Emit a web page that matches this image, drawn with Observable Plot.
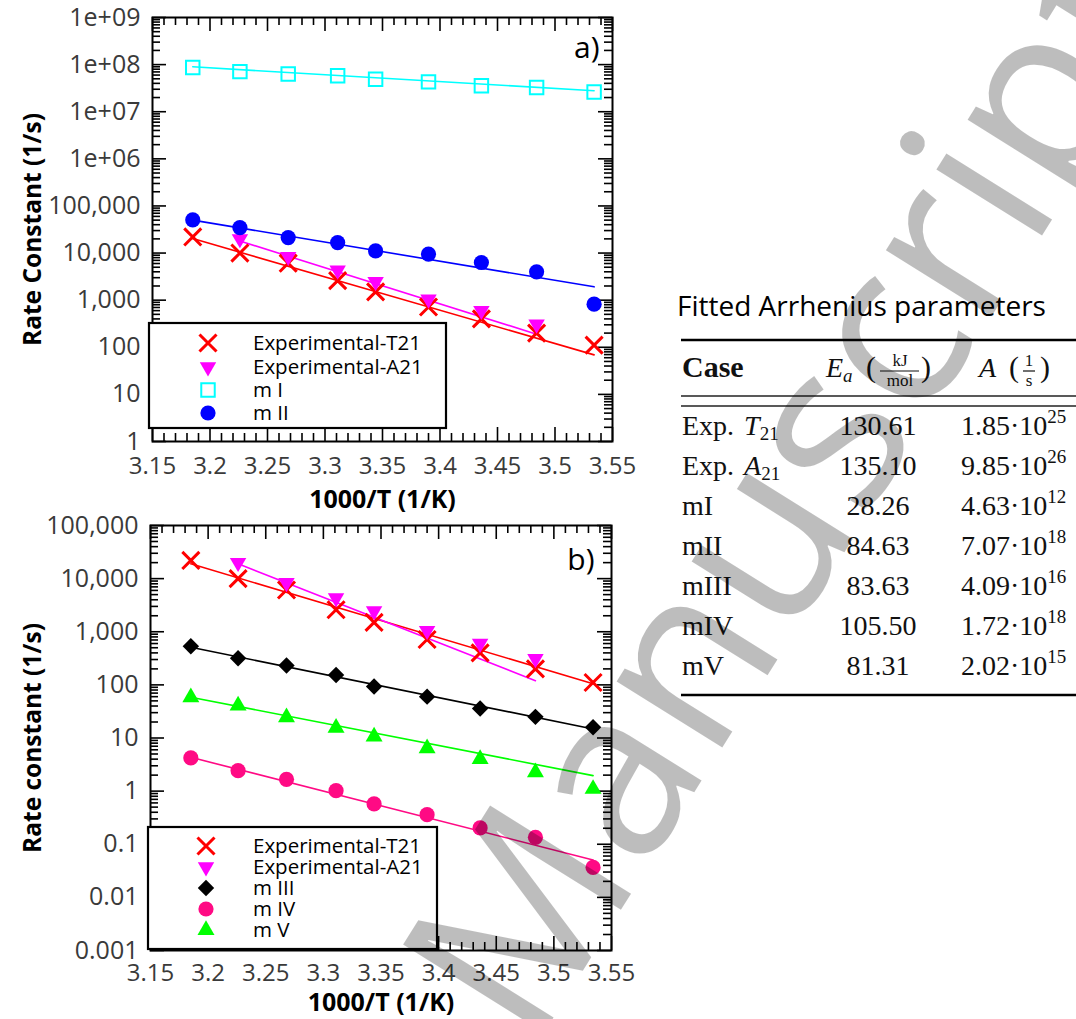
<!DOCTYPE html>
<html><head><meta charset="utf-8">
<script src="https://cdn.jsdelivr.net/npm/d3@7"></script>
<script src="https://cdn.jsdelivr.net/npm/@observablehq/plot@0.6"></script>
<style>
body{margin:0;background:#fff;}
#root{position:relative;width:1076px;height:1019px;overflow:hidden;background:#fff;font-family:"Open Sans",sans-serif;}
#root > *{position:absolute;left:0;}
</style></head><body><div id="root"></div>
<script>
// ---------- data ----------
const invT = [3.185, 3.226, 3.268, 3.311, 3.344, 3.390, 3.436, 3.484, 3.534];
const expT21 = [22000, 10000, 6100, 2600, 1500, 715, 400, 200, 111];
const expA21 = [null, 20000, 8400, 4300, 2450, 1050, 600, 309, null];
const mI   = [87000000, 71000000, 63000000, 58000000, 49000000, 43000000, 35500000, 32700000, 26300000];
const mII  = [50700, 34700, 21300, 16700, 11100, 9500, 6300, 4000, 823];
const mIII = [533, 317, 231, 154, 93, 60, 36, 25, 15.9];
const mIV  = [4.22, 2.43, 1.67, 1.02, 0.574, 0.36, 0.203, 0.135, 0.0367];
const mV   = [58.5, 40.7, 24.6, 15.5, 10.6, 6.4, 4.0, 2.26, 1.1];

// fitted lines (end points)
const fitX    = [3.185, 3.534];
const fitXA21 = [3.226, 3.484];
const fitA_T21 = [20300, 69];
const fitA_A21 = [18000, 190];
const fitA_mI  = [89800000, 27800000];
const fitA_mII = [50000, 1920];
const fitB_T21 = [19000, 105];
const fitB_A21 = [19000, 120];
const fitB_mIII = [510, 14.8];
const fitB_mIV  = [4.33, 0.0506];
const fitB_mV   = [58.5, 1.96];

// ticks
const xMajor = [3.15, 3.2, 3.25, 3.3, 3.35, 3.4, 3.45, 3.5, 3.55];
const xMajorLabels = ["3.15", "3.2", "3.25", "3.3", "3.35", "3.4", "3.45", "3.5", "3.55"];
const yTicksA = [1, 10, 100, 1000, 10000, 100000, 1e6, 1e7, 1e8, 1e9];
const yLabelsA = ["1", "10", "100", "1,000", "10,000", "100,000", "1e+06", "1e+07", "1e+08", "1e+09"];
const yTicksB = [0.001, 0.01, 0.1, 1, 10, 100, 1000, 10000, 100000];
const yLabelsB = ["0.001", "0.01", "0.1", "1", "10", "100", "1,000", "10,000", "100,000"];

// legends
const legendA = ["Experimental-T21", "Experimental-A21", "m I", "m II"];
const legendB = ["Experimental-T21", "Experimental-A21", "m III", "m IV", "m V"];

// table
const tableTitle = "Fitted Arrhenius parameters";
const caseMain = ["Exp.", "Exp.", "mI", "mII", "mIII", "mIV", "mV"];
const caseSym  = ["T", "A", "", "", "", "", ""];
const caseSub  = ["21", "21", "", "", "", "", ""];
const eaVals   = ["130.61", "135.10", "28.26", "84.63", "83.63", "105.50", "81.31"];
const aMant    = ["1.85", "9.85", "4.63", "7.07", "4.09", "1.72", "2.02"];
const aExp     = ["25", "26", "12", "18", "16", "18", "15"];

// ---------- styles ----------
const styles = {
  T21:  {symbol: "times", r: 7.8, stroke: "#ff0000", strokeWidth: 3, fill: "none", line: "#ff0000"},
  A21:  {symbol: "triangle", rotate: 180, r: 6.1, fill: "#ff00ff", stroke: "none", line: "#ff00ff"},
  mI:   {symbol: "square", r: 7.6, stroke: "#00ffff", strokeWidth: 2, fill: "none", line: "#00ffff"},
  mII:  {symbol: "circle", r: 7.6, fill: "#0000ff", stroke: "none", line: "#0000ff"},
  mIII: {symbol: "diamond2", r: 7.4, fill: "#000000", stroke: "none", line: "#000000"},
  mIV:  {symbol: "circle", r: 7.6, fill: "#ff0a84", stroke: "none", line: "#ff0a84"},
  mV:   {symbol: "triangle", r: 6.3, fill: "#00ff00", stroke: "none", line: "#00ff00"}
};

const W = 640;
const root = document.getElementById("root");

function pts(vals) { return invT.map((x, i) => ({x, y: vals[i]})).filter(d => d.y != null); }
function seg(xs, ys) { return xs.map((x, i) => ({x, y: ys[i]})); }

function makePanel(cfg) {
  const {top, height, mL, mR, mT, mB, yDomain, yTicks, yLabels, series, fits,
         yLabel, yLabelDx, xLabelDy, xPad, tag, tagDx, tagDy, legend} = cfg;
  const plotW = W - mL - mR, plotH = height - mT - mB;
  const yMinor = [];
  const e0 = Math.round(Math.log10(yDomain[0])), e1 = Math.round(Math.log10(yDomain[1]));
  for (let e = e0; e < e1; e++) for (let k = 2; k <= 9; k++) yMinor.push(+(k * Math.pow(10, e)).toPrecision(6));
  const xMinor = d3.range(315, 356).filter(v => v % 5 !== 0).map(v => v / 100);
  const tk = {stroke: "#000", strokeWidth: 1.6};
  const marks = [
    Plot.tickX(xMinor, {x: d => d, ...tk, insetTop: plotH - 8}),
    Plot.tickX(xMinor, {x: d => d, ...tk, insetBottom: plotH - 8}),
    Plot.tickX(xMajor, {x: d => d, ...tk, insetTop: plotH - 14}),
    Plot.tickX(xMajor, {x: d => d, ...tk, insetBottom: plotH - 14}),
    Plot.tickY(yMinor, {y: d => d, ...tk, insetRight: plotW - 8}),
    Plot.tickY(yMinor, {y: d => d, ...tk, insetLeft: plotW - 8}),
    Plot.tickY(yTicks, {y: d => d, ...tk, insetRight: plotW - 14}),
    Plot.tickY(yTicks, {y: d => d, ...tk, insetLeft: plotW - 14}),
    Plot.axisX(xMajor, {anchor: "bottom", tickSize: 0, tickPadding: xPad, label: null,
      tickFormat: d => xMajorLabels[xMajor.indexOf(d)], fontSize: 24, color: "#3a3a3a"}),
    Plot.axisY(yTicks, {anchor: "left", tickSize: 0, tickPadding: 12, label: null,
      tickFormat: d => yLabels[yTicks.indexOf(d)], fontSize: 25, color: "#3a3a3a"}),
  ];
  for (const [key, xs, ys] of fits) {
    marks.push(Plot.line(seg(xs, ys), {x: "x", y: "y", stroke: styles[key].line, strokeWidth: 1.6}));
  }
  for (const [key, vals] of series) {
    const s = styles[key];
    const o = {x: "x", y: "y", symbol: s.symbol, r: s.r, fill: s.fill, stroke: s.stroke};
    if (s.strokeWidth) o.strokeWidth = s.strokeWidth;
    if (s.rotate) o.rotate = s.rotate;
    marks.push(Plot.dot(pts(vals), o));
  }
  marks.push(Plot.frame({stroke: "#000", strokeWidth: 2}));
  marks.push(Plot.text(["1000/T (1/K)"], {text: d => d, frameAnchor: "bottom", dy: xLabelDy, lineAnchor: "middle",
    textAnchor: "middle", fontWeight: "bold", fontSize: 25, fill: "#000"}));
  marks.push(Plot.text([yLabel], {text: d => d, frameAnchor: "left", dx: yLabelDx, rotate: -90, lineAnchor: "middle",
    textAnchor: "middle", fontWeight: "bold", fontSize: 24.5, fill: "#000"}));
  marks.push(Plot.text([tag], {text: d => d, frameAnchor: "top-right", dx: tagDx, dy: tagDy, textAnchor: "end",
    lineAnchor: "middle", fontSize: 30, fill: "#000"}));

  const chart = Plot.plot({
    width: W, height, marginLeft: mL, marginRight: mR, marginTop: mT, marginBottom: mB,
    x: {domain: [3.15, 3.55]},
    y: {type: "log", domain: yDomain},
    style: {fontFamily: "Open Sans, sans-serif", fontSize: "20px", background: "transparent", overflow: "visible"},
    marks
  });
  chart.style.position = "absolute";
  chart.style.top = top + "px";
  chart.style.left = "0px";

  // legend box
  const svg = d3.select(chart);
  const g = svg.append("g").attr("text-anchor", "start");
  const [bx0, by0, bx1, by1] = legend.box;
  g.append("rect").attr("x", bx0).attr("y", by0).attr("width", bx1 - bx0).attr("height", by1 - by0)
    .attr("fill", "#fff").attr("stroke", "#000").attr("stroke-width", 2.2);
  const symMap = {times: d3.symbolTimes, triangle: d3.symbolTriangle, square: d3.symbolSquare,
                  circle: d3.symbolCircle, diamond2: d3.symbolDiamond2};
  legend.keys.forEach((key, i) => {
    const s = styles[key];
    const y = legend.rows[i];
    g.append("path")
      .attr("d", d3.symbol(symMap[s.symbol], Math.PI * s.r * s.r)())
      .attr("transform", `translate(${legend.symX},${y}) rotate(${s.rotate || 0})`)
      .attr("fill", s.fill).attr("stroke", s.stroke).attr("stroke-width", s.strokeWidth || 0);
    g.append("text").attr("x", legend.textX).attr("y", y).attr("dy", "0.36em")
      .attr("text-anchor", "start").attr("font-size", 20.5).attr("fill", "#000").text(legend.labels[i]);
  });
  root.appendChild(chart);
}

makePanel({
  top: 0, height: 515, mL: 152, mR: 28, mT: 17, mB: 74,
  yDomain: [1, 1e9], yTicks: yTicksA, yLabels: yLabelsA,
  series: [["T21", expT21], ["A21", expA21], ["mI", mI], ["mII", mII]],
  fits: [["T21", fitX, fitA_T21], ["A21", fitXA21, fitA_A21], ["mI", fitX, fitA_mI], ["mII", fitX, fitA_mII]],
  yLabel: "Rate Constant (1/s)", yLabelDx: -119, xLabelDy: 58, xPad: 15,
  tag: "a)", tagDx: -13, tagDy: 31,
  legend: {box: [149, 323, 446, 428], rows: [343, 367, 390, 413], symX: 208, textX: 253,
           keys: ["T21", "A21", "mI", "mII"], labels: legendA}
});

makePanel({
  top: 515, height: 504, mL: 150, mR: 29, mT: 10, mB: 69,
  yDomain: [0.001, 100000], yTicks: yTicksB, yLabels: yLabelsB,
  series: [["T21", expT21], ["A21", expA21], ["mIII", mIII], ["mIV", mIV], ["mV", mV]],
  fits: [["T21", fitX, fitB_T21], ["A21", fitXA21, fitB_A21], ["mIII", fitX, fitB_mIII], ["mIV", fitX, fitB_mIV], ["mV", fitX, fitB_mV]],
  yLabel: "Rate constant (1/s)", yLabelDx: -117, xLabelDy: 52, xPad: 13,
  tag: "b)", tagDx: -17, tagDy: 35,
  legend: {box: [148, 312, 437, 434], rows: [331, 352, 373, 394, 415], symX: 206, textX: 253,
           keys: ["T21", "A21", "mIII", "mIV", "mV"], labels: legendB}
});

// ---------- table + watermark overlay ----------
const ov = d3.select(root).append("svg")
  .attr("width", 1076).attr("height", 1019)
  .style("position", "absolute").style("top", "0px").style("left", "0px");

ov.append("text").attr("x", 677).attr("y", 316).attr("font-family", "Open Sans, sans-serif")
  .attr("font-size", 28).attr("fill", "#000").text(tableTitle);

const serif = "Liberation Serif, DejaVu Serif, serif";
const T = ov.append("g").attr("font-family", serif).attr("fill", "#111");
T.append("line").attr("x1", 681).attr("x2", 1076).attr("y1", 340).attr("y2", 340).attr("stroke", "#000").attr("stroke-width", 2.4);
T.append("line").attr("x1", 681).attr("x2", 1076).attr("y1", 396).attr("y2", 396).attr("stroke", "#222").attr("stroke-width", 1.5);
T.append("line").attr("x1", 681).attr("x2", 1076).attr("y1", 406).attr("y2", 406).attr("stroke", "#222").attr("stroke-width", 1.5);
T.append("line").attr("x1", 681).attr("x2", 1076).attr("y1", 695).attr("y2", 695).attr("stroke", "#000").attr("stroke-width", 2.4);

// header
T.append("text").attr("x", 682).attr("y", 377).attr("font-size", 30).attr("font-weight", "bold").text("Case");
const h1 = T.append("text").attr("x", 826).attr("y", 377).attr("font-size", 28);
h1.append("tspan").attr("font-style", "italic").text("E");
h1.append("tspan").attr("font-style", "italic").attr("font-size", 19).attr("dy", 5).text("a");
T.append("text").attr("x", 866).attr("y", 377).attr("font-size", 30).text("(");
T.append("text").attr("x", 900).attr("y", 366).attr("font-size", 17).attr("text-anchor", "middle").text("kJ");
T.append("line").attr("x1", 880).attr("x2", 919).attr("y1", 371).attr("y2", 371).attr("stroke", "#111").attr("stroke-width", 1.2);
T.append("text").attr("x", 900).attr("y", 386).attr("font-size", 17).attr("text-anchor", "middle").text("mol");
T.append("text").attr("x", 921).attr("y", 377).attr("font-size", 30).text(")");
T.append("text").attr("x", 979).attr("y", 377).attr("font-size", 28).attr("font-style", "italic").text("A");
T.append("text").attr("x", 1009).attr("y", 377).attr("font-size", 30).text("(");
T.append("text").attr("x", 1029).attr("y", 366).attr("font-size", 17).attr("text-anchor", "middle").text("1");
T.append("line").attr("x1", 1023).attr("x2", 1035).attr("y1", 371).attr("y2", 371).attr("stroke", "#111").attr("stroke-width", 1.2);
T.append("text").attr("x", 1029).attr("y", 386).attr("font-size", 17).attr("text-anchor", "middle").text("s");
T.append("text").attr("x", 1040).attr("y", 377).attr("font-size", 30).text(")");

caseMain.forEach((c, i) => {
  const y = 435 + i * 40;
  const t = T.append("text").attr("x", 682).attr("y", y).attr("font-size", 28);
  t.append("tspan").text(c);
  if (caseSym[i]) {
    t.append("tspan").attr("dx", 10).attr("font-style", "italic").text(caseSym[i]);
    t.append("tspan").attr("font-size", 19).attr("dy", 5).text(caseSub[i]);
  }
  T.append("text").attr("x", 878).attr("y", y).attr("font-size", 28).attr("text-anchor", "middle").text(eaVals[i]);
  const a = T.append("text").attr("x", 961).attr("y", y).attr("font-size", 28);
  a.append("tspan").text(aMant[i] + "\u00b710");
  a.append("tspan").attr("font-size", 19).attr("dy", -12).text(aExp[i]);
});

// watermark
const wm = ov.append("g").attr("transform", "translate(532,1052) rotate(-58)")
  .attr("font-family", "Open Sans, sans-serif").attr("font-weight", 500).attr("font-size", 233)
  .attr("fill", "#000").attr("fill-opacity", 0.26);
wm.append("text").attr("x", -60).attr("y", 0).attr("text-anchor", "end").text("Accepted");
wm.append("text").attr("x", 0).attr("y", 0).text("Manuscript");
</script></body></html>
